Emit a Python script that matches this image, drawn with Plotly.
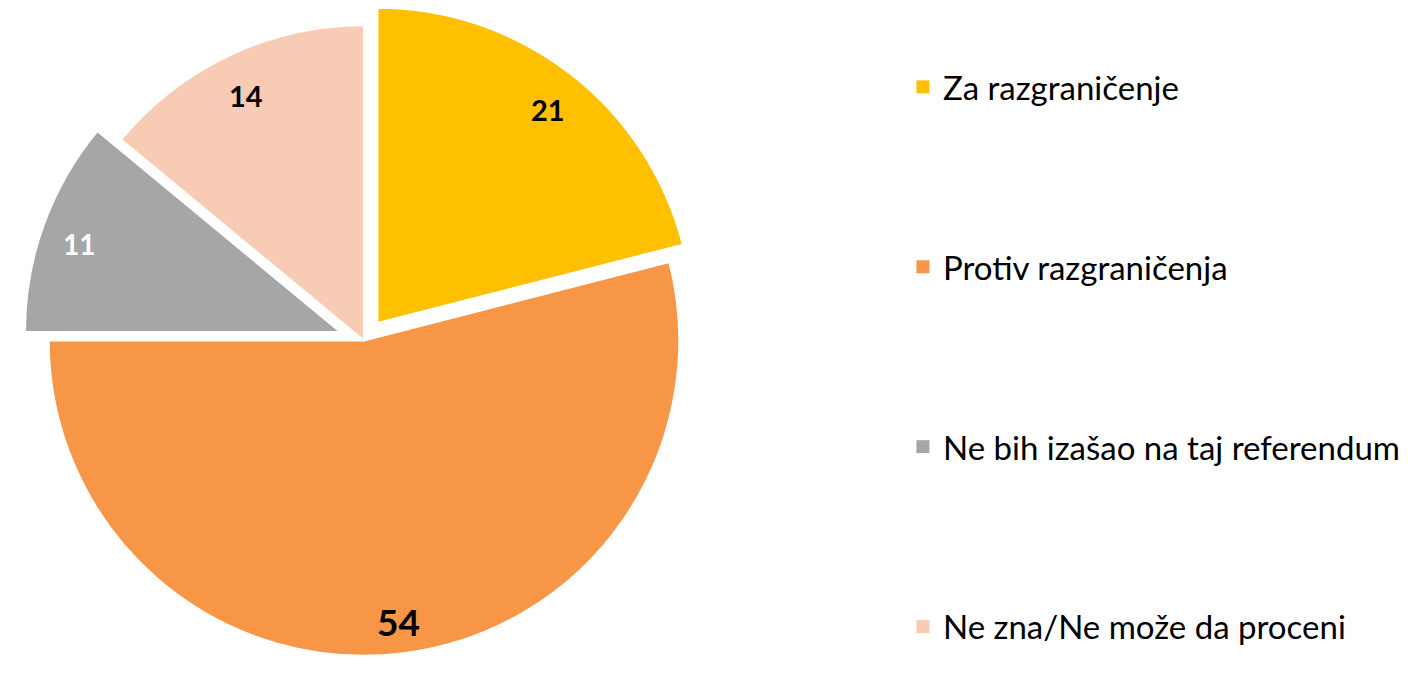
import math
import plotly.graph_objects as go

categories = ["Za razgraničenje", "Protiv razgraničenja", "Ne bih izašao na taj referendum", "Ne zna/Ne može da proceni"]
values = [21, 54, 11, 14]
colors = ["#FFC000", "#F79646", "#A6A6A6", "#F8CBB4"]
pulls = [0.07, 0, 0.08, 0]
label_colors = ["#000000", "#000000", "#FFFFFF", "#000000"]
label_sizes = [29, 37, 28, 29]

W, H = 1408, 681
dom_x = [0, 0.517]
dom_y = [0, 1]
LABEL_FRAC = 0.88

fig = go.Figure()
fig.add_trace(go.Pie(
    labels=categories,
    values=values,
    sort=False,
    direction="clockwise",
    rotation=0,
    pull=pulls,
    marker=dict(colors=colors, line=dict(color="#FFFFFF", width=2)),
    textinfo="none",
    hoverinfo="label+value",
    showlegend=False,
    domain=dict(x=dom_x, y=dom_y),
))

# value labels placed along each slice bisector, using plotly's pie geometry
box_w = W * (dom_x[1] - dom_x[0])
box_h = H * (dom_y[1] - dom_y[0])
r = min(box_w, box_h) / 2 / (1 + max(pulls))
cx = W * (dom_x[0] + dom_x[1]) / 2
cy = H * (1 - dom_y[0]) - box_h / 2
total = sum(values)
cum = 0
for v, p, col, sz in zip(values, pulls, label_colors, label_sizes):
    mid = 2 * math.pi * (cum + v / 2) / total
    cum += v
    dx, dy = math.sin(mid), -math.cos(mid)
    px = cx + (p + LABEL_FRAC) * r * dx
    py = cy + (p + LABEL_FRAC) * r * dy + 6
    fig.add_annotation(
        x=px / W, y=1 - py / H, xref="paper", yref="paper",
        text=f"<b>{v}</b>", showarrow=False,
        font=dict(family="Lato", size=sz, color=col),
        xanchor="center", yanchor="middle",
    )

# legend entries
for cat, col in zip(categories, colors):
    fig.add_trace(go.Scatter(
        x=[None], y=[None], mode="markers", name=cat, legendgroup=cat,
        marker=dict(symbol="square", size=13, color=col, line=dict(width=0)),
        showlegend=True, hoverinfo="skip",
    ))

fig.update_layout(
    width=W, height=H,
    margin=dict(l=0, r=0, t=0, b=0),
    paper_bgcolor="white",
    plot_bgcolor="white",
    font=dict(family="Lato", color="#000000"),
    xaxis=dict(visible=False),
    yaxis=dict(visible=False),
    legend=dict(
        x=0.6413, xanchor="left",
        y=0.9135, yanchor="top",
        font=dict(size=33, family="Lato", color="#000000"),
        tracegroupgap=134,
        traceorder="grouped",
        bgcolor="rgba(0,0,0,0)",
    ),
    showlegend=True,
)

fig.write_html("out.html", config={"displayModeBar": False},
               post_script="document.body.style.margin='0';")
